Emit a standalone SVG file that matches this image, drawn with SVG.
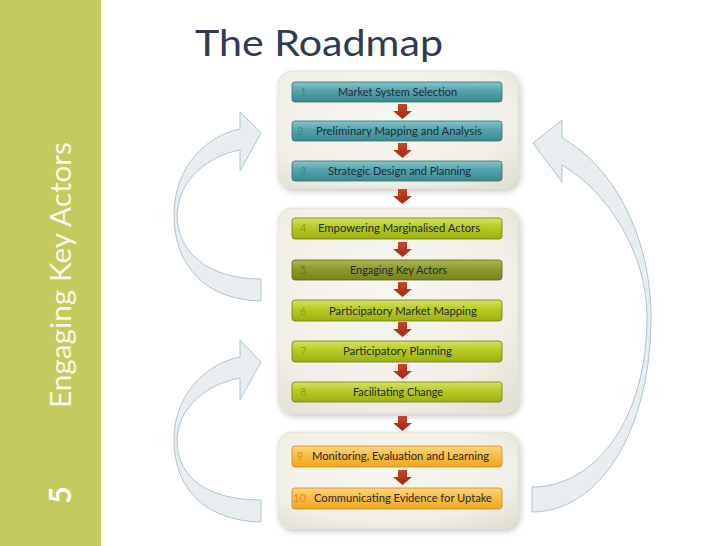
<svg xmlns="http://www.w3.org/2000/svg" width="728" height="546" viewBox="0 0 728 546">
<defs>
<style>
.panel{filter:url(#sh)}
.box text{font-family:Lato,"Liberation Sans",sans-serif;font-size:11px}
.lbl{fill:#1d2a36;text-anchor:middle}
.teal rect{fill:url(#gT);stroke:#2f6f76;stroke-width:0.8}
.teal .num{fill:#3d858c}
.green rect{fill:url(#gG);stroke:#6d7c12;stroke-width:0.8}
.green .num{fill:#8fa11a}
.olive rect{fill:url(#gO);stroke:#5c661a;stroke-width:0.8}
.olive .num{fill:#6c7622}
.orange rect{fill:url(#gY);stroke:#c98a1a;stroke-width:0.8}
.orange .num{fill:#e28c18}
.red{fill:url(#gR)}
.curve{fill:#e8edf0;stroke:#b0c4ce;stroke-width:1}
</style>
<filter id="sh" x="-10%" y="-10%" width="125%" height="125%">
<feDropShadow dx="2" dy="3" stdDeviation="3" flood-color="#000" flood-opacity="0.22"/>
</filter>
<radialGradient id="gP" cx="0.45" cy="0.4" r="0.75">
<stop offset="0" stop-color="#f7f6f1"/>
<stop offset="0.7" stop-color="#f1efe7"/>
<stop offset="1" stop-color="#e3e0d4"/>
</radialGradient>
<linearGradient id="gT" x1="0" y1="0" x2="0" y2="1">
<stop offset="0" stop-color="#86c6cb"/>
<stop offset="0.45" stop-color="#52a3aa"/>
<stop offset="1" stop-color="#3b8990"/>
</linearGradient>
<linearGradient id="gG" x1="0" y1="0" x2="0" y2="1">
<stop offset="0" stop-color="#d6e264"/>
<stop offset="0.45" stop-color="#b7ca22"/>
<stop offset="1" stop-color="#9cb012"/>
</linearGradient>
<linearGradient id="gO" x1="0" y1="0" x2="0" y2="1">
<stop offset="0" stop-color="#aeb84c"/>
<stop offset="0.45" stop-color="#8e9a2c"/>
<stop offset="1" stop-color="#77831e"/>
</linearGradient>
<linearGradient id="gY" x1="0" y1="0" x2="0" y2="1">
<stop offset="0" stop-color="#fdd67e"/>
<stop offset="0.45" stop-color="#f8bd42"/>
<stop offset="1" stop-color="#f0a624"/>
</linearGradient>
<linearGradient id="gR" x1="0" y1="0" x2="0" y2="1">
<stop offset="0" stop-color="#c8452a"/>
<stop offset="1" stop-color="#9e2a14"/>
</linearGradient>
<path id="ra" d="M398,0 h9 v7 h5 l-9.5,8 l-9.5,-8 h5 z"/>
</defs>

<rect x="0" y="0" width="728" height="546" fill="#ffffff"/>
<rect x="0" y="0" width="101" height="546" fill="#c4ca5e"/>
<text transform="translate(71,275) rotate(-90)" text-anchor="middle" font-family="Lato,'Liberation Sans',sans-serif" font-size="29" fill="#f6f7e6" textLength="266" lengthAdjust="spacingAndGlyphs">Engaging Key Actors</text>
<text transform="translate(71,495) rotate(-90)" text-anchor="middle" font-family="Lato,'Liberation Sans',sans-serif" font-size="30" font-weight="bold" fill="#ffffff">5</text>

<text x="195" y="56" font-family="Lato,'Liberation Sans',sans-serif" font-size="36" fill="#2f3b4e" textLength="248" lengthAdjust="spacingAndGlyphs">The Roadmap</text>

<g id="loops">
<path id="loop-left-top" class="curve" d="M261,301 C205,300 174,265 174,215 C174,168 205,136 240,129 L240,112 L261,133 L240,171 L240,150 C208,156 178,180 177,215 C177,252 208,279 261,279 Z"/>
<path id="loop-left-bottom" class="curve" d="M261,522 C205,521 174,488 174,440 C174,395 205,364 240,357 L240,340 L261,362 L240,400 L240,378 C208,384 178,406 177,440 C177,478 208,500 261,500 Z"/>
<path id="loop-right" class="curve" d="M532,512 C600,512 651,430 651,317 C651,235 612,165 562,138 L562,120 L533,143 L562,182 L562,165 C605,190 647,250 647,317 C647,420 595,487 532,487 Z"/>
</g>

<g id="panels">
<rect id="panel-1" class="panel" x="278" y="71" width="240" height="117" rx="14" fill="url(#gP)" stroke="#e2dfd3" stroke-width="0.8"/>
<rect id="panel-2" class="panel" x="278" y="208" width="240" height="205" rx="14" fill="url(#gP)" stroke="#e2dfd3" stroke-width="0.8"/>
<rect id="panel-3" class="panel" x="278" y="432" width="240" height="96" rx="14" fill="url(#gP)" stroke="#e2dfd3" stroke-width="0.8"/>
</g>

<g id="connectors" class="red">
<use href="#ra" y="104"/>
<use href="#ra" y="143"/>
<use href="#ra" y="189"/>
<use href="#ra" y="242"/>
<use href="#ra" y="282"/>
<use href="#ra" y="322"/>
<use href="#ra" y="364"/>
<use href="#ra" y="416"/>
<use href="#ra" y="470"/>
</g>

<g id="step-1" class="box teal"><rect x="292" y="82" width="210" height="20" rx="3"/><text class="num" x="300" y="96">1</text><text class="lbl" x="397.5" y="96" textLength="119" lengthAdjust="spacingAndGlyphs">Market System Selection</text></g>
<g id="step-2" class="box teal"><rect x="292" y="121" width="210" height="20" rx="3"/><text class="num" x="297" y="135">2</text><text class="lbl" x="399" y="135" textLength="166" lengthAdjust="spacingAndGlyphs">Preliminary Mapping and Analysis</text></g>
<g id="step-3" class="box teal"><rect x="292" y="161" width="210" height="20" rx="3"/><text class="num" x="300" y="175">3</text><text class="lbl" x="399.5" y="175" textLength="143" lengthAdjust="spacingAndGlyphs">Strategic Design and Planning</text></g>

<g id="step-4" class="box green"><rect x="292" y="218" width="210" height="21" rx="3"/><text class="num" x="300" y="232">4</text><text class="lbl" x="399" y="232" textLength="162" lengthAdjust="spacingAndGlyphs">Empowering Marginalised Actors</text></g>
<g id="step-5" class="box olive"><rect x="292" y="260" width="210" height="20" rx="3"/><text class="num" x="300" y="274">5</text><text class="lbl" x="398.5" y="274" textLength="97" lengthAdjust="spacingAndGlyphs">Engaging Key Actors</text></g>
<g id="step-6" class="box green"><rect x="292" y="300" width="210" height="21" rx="3"/><text class="num" x="300" y="315">6</text><text class="lbl" x="403" y="315" textLength="148" lengthAdjust="spacingAndGlyphs">Participatory Market Mapping</text></g>
<g id="step-7" class="box green"><rect x="292" y="341" width="210" height="21" rx="3"/><text class="num" x="300" y="355">7</text><text class="lbl" x="397.5" y="355" textLength="109" lengthAdjust="spacingAndGlyphs">Participatory Planning</text></g>
<g id="step-8" class="box green"><rect x="292" y="382" width="210" height="20" rx="3"/><text class="num" x="300" y="396">8</text><text class="lbl" x="398" y="396" textLength="90" lengthAdjust="spacingAndGlyphs">Facilitating Change</text></g>

<g id="step-9" class="box orange"><rect x="292" y="446" width="210" height="21" rx="3"/><text class="num" x="297" y="460">9</text><text class="lbl" x="400.5" y="460" textLength="177" lengthAdjust="spacingAndGlyphs">Monitoring, Evaluation and Learning</text></g>
<g id="step-10" class="box orange"><rect x="292" y="488" width="210" height="21" rx="3"/><text class="num" x="293" y="502">10</text><text class="lbl" x="403" y="502" textLength="178" lengthAdjust="spacingAndGlyphs">Communicating Evidence for Uptake</text></g>
</svg>
